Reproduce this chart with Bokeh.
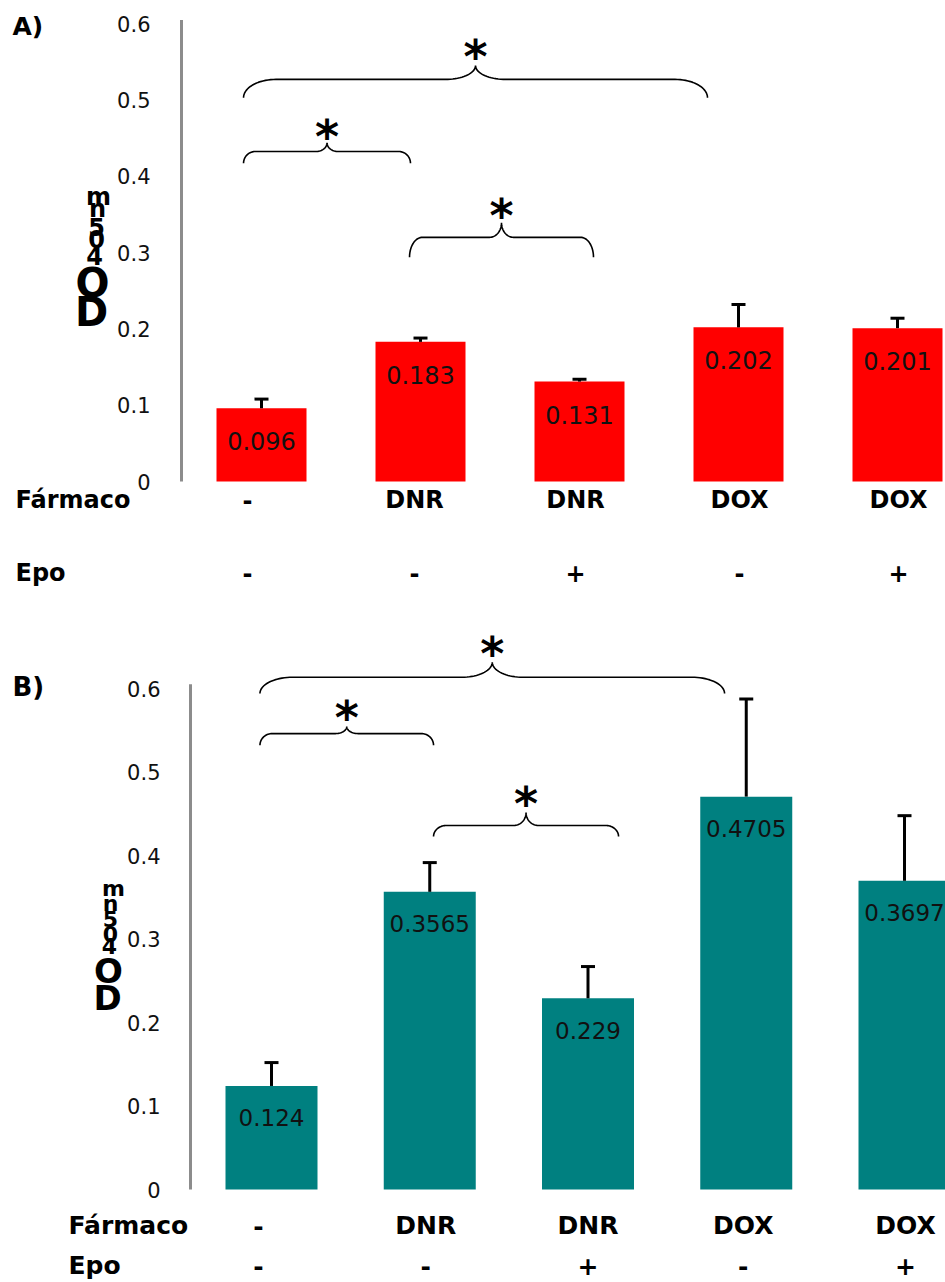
import numpy as np
from bokeh.plotting import figure
from bokeh.models import Range1d, ColumnDataSource
from bokeh.layouts import column
from bokeh.embed import file_html
from bokeh.resources import INLINE
from bokeh.core.properties import value

# ---------------- data ----------------
farmaco = ["-", "DNR", "DNR", "DOX", "DOX"]
epo = ["-", "-", "+", "-", "+"]
a_values = [0.096, 0.183, 0.131, 0.202, 0.201]
a_errors = [0.012, 0.005, 0.003, 0.030, 0.013]
b_values = [0.124, 0.3565, 0.229, 0.4705, 0.3697]
b_errors = [0.028, 0.035, 0.038, 0.117, 0.078]
y_ticks = [0, 0.1, 0.2, 0.3, 0.4, 0.5, 0.6]
y_tick_labels = ["0", "0.1", "0.2", "0.3", "0.4", "0.5", "0.6"]
ylabel_chars = ["m", "n", "5", "0", "4", "O", "D"]

# significance braces (data units): x0, x1, y_end, y_arm, y_peak, y_star
a_brace_x0 = [-0.113, -0.113, 0.931]
a_brace_x1 = [2.805, 0.937, 2.088]
a_brace_yend = [0.503, 0.417, 0.294]
a_brace_yarm = [0.527, 0.4325, 0.320]
a_brace_ypeak = [0.545, 0.444, 0.339]
a_star_y = [0.562, 0.457, 0.3526]

b_brace_x0 = [-0.073, -0.073, 1.024]
b_brace_x1 = [2.863, 1.024, 2.193]
b_brace_yend = [0.594, 0.532, 0.4228]
b_brace_yarm = [0.6135, 0.546, 0.436]
b_brace_ypeak = [0.6315, 0.5545, 0.4515]
b_star_y = [0.6467, 0.569, 0.466]


def brace(x0, x1, ye, ya, yp):
    xm = (x0 + x1) / 2.0
    r = 0.07 * (x1 - x0)
    rm = 0.065 * (x1 - x0)
    t = np.linspace(0, np.pi / 2, 20)
    xs1 = x0 + r - r * np.cos(t)
    ys1 = ye + (ya - ye) * np.sin(t)
    xs2 = xm - rm + rm * np.sin(t)
    ys2 = ya + (yp - ya) * (1 - np.cos(t))
    left_x = np.concatenate([xs1, xs2])
    left_y = np.concatenate([ys1, ys2])
    right_x = (2 * xm - left_x)[::-1]
    right_y = left_y[::-1]
    return np.concatenate([left_x, right_x]), np.concatenate([left_y, right_y])


def make_panel(cfg, values, errors, color, bx0, bx1, bye, bya, byp, stary):
    W, H = cfg["W"], cfg["H"]
    oy = cfg["oy"]
    c0, step, y0, ppu = cfg["c0"], cfg["step"], cfg["y0"], cfg["ppu"]

    def dx(px):
        return (px - c0) / step

    def dy(py):
        return (y0 - py) / ppu

    p = figure(width=W, height=H, output_backend="svg", toolbar_location=None,
               x_axis_location=None, y_axis_location=None,
               x_range=Range1d(dx(0), dx(W)), y_range=Range1d(dy(oy + H), dy(oy)),
               min_border_left=0, min_border_right=0, min_border_top=0,
               min_border_bottom=0)
    p.outline_line_color = None
    p.background_fill_color = "white"
    p.border_fill_color = "white"
    p.xgrid.visible = False
    p.ygrid.visible = False

    # y axis: line and tick labels placed through the scales
    ax = dx(cfg["axis_x"])
    p.segment(x0=[ax], y0=[y_ticks[0]], x1=[ax], y1=[y_ticks[-1] + 0.005],
              line_color="#8c8c8c", line_width=3)
    p.text(x=[ax] * len(y_ticks), y=y_ticks, text=y_tick_labels,
           x_offset=-cfg["standoff"], text_align="right", text_baseline="middle",
           text_font=value("DejaVu Sans"), text_font_size=cfg["tick_fs"],
           text_color="#111111")

    idx = list(range(len(values)))
    tops = [v + e for v, e in zip(values, errors)]
    src = ColumnDataSource(dict(x=idx, v=values, top=tops,
                                lbl=[str(v) for v in values]))
    bw = cfg["bar_px"] / step
    p.vbar(x="x", top="v", bottom=0, width=bw, source=src,
           fill_color=color, line_color=None)
    cap = 7.0 / step
    p.segment(x0="x", y0="v", x1="x", y1="top", source=src,
              line_color="black", line_width=3)
    src_cap = ColumnDataSource(dict(xa=[i - cap for i in idx], xb=[i + cap for i in idx], top=tops))
    p.segment(x0="xa", y0="top", x1="xb", y1="top", source=src_cap,
              line_color="black", line_width=3)
    p.text(x="x", y="v", text="lbl", source=src, text_align="center",
           text_baseline="middle", y_offset=cfg["val_off"],
           text_font=value("DejaVu Sans"), text_font_size=cfg["val_fs"],
           text_color="#111111")

    # braces and stars
    for i in range(len(bx0)):
        xs, ys = brace(bx0[i], bx1[i], bye[i], bya[i], byp[i])
        p.line(xs, ys, line_color="black", line_width=1.6)
    p.text(x=[(a + b) / 2 for a, b in zip(bx0, bx1)], y=stary, text=["*"] * len(bx0),
           text_align="center", text_baseline="middle", y_offset=cfg["star_off"],
           text_font=value("DejaVu Sans"), text_font_style="bold",
           text_font_size=cfg["star_fs"], text_color="black")

    # table rows
    col_shift = cfg["col_shift"]
    for row_lbl, row, py in [("Fármaco", farmaco, cfg["row1"]), ("Epo", epo, cfg["row2"])]:
        p.text(x=[dx(cfg["row_left"])], y=[dy(py)], text=[row_lbl],
               text_align="left", text_baseline="middle",
               text_font=value("DejaVu Sans"), text_font_style="bold",
               text_font_size=cfg["row_fs"], text_color="black")
        rsrc = ColumnDataSource(dict(x=idx, y=[dy(py)] * len(row), t=row, off=col_shift))
        p.text(x="x", y="y", text="t", x_offset="off", source=rsrc,
               text_align="center", text_baseline="middle",
               text_font=value("DejaVu Sans"), text_font_style="bold",
               text_font_size=cfg["row_fs"], text_color="black")

    # panel letter
    p.text(x=[dx(cfg["letter_x"])], y=[dy(cfg["letter_y"])], text=[cfg["letter"]],
           text_align="left", text_baseline="middle",
           text_font=value("DejaVu Sans"), text_font_style="bold",
           text_font_size=cfg["letter_fs"], text_color="black")

    # stacked axis title characters
    for ch, (px, py) in zip(ylabel_chars, cfg["od_pos"]):
        big = ch in ("O", "D")
        p.text(x=[dx(px)], y=[dy(py)], text=[ch],
               text_align="center", text_baseline="middle",
               text_font=value("DejaVu Sans"), text_font_style="bold",
               text_font_size=cfg["od_big"] if big else cfg["od_small"],
               text_color="black")
    return p


cfg_a = dict(W=945, H=600, oy=0, c0=261, step=159.0, y0=481, ppu=763.0,
             axis_x=181, standoff=31, tick_fs="21px", bar_px=90,
             val_off=33, val_fs="24px", star_off=4, star_fs="46px",
             row1=499, row2=572, row_left=15, row_fs="24px",
             col_shift=[-14, -6, -4, 1, 1],
             letter="A)", letter_x=12, letter_y=26, letter_fs="25px",
             od_pos=[(98, 196), (97, 208), (96, 226), (96, 238), (94, 255), (92, 282), (91, 311)],
             od_small="24px", od_big="40px")

cfg_b = dict(W=945, H=682, oy=600, c0=271, step=158.25, y0=1189, ppu=835.0,
             axis_x=190, standoff=30, tick_fs="21px", bar_px=92,
             val_off=32, val_fs="23px", star_off=4, star_fs="46px",
             row1=1225, row2=1265, row_left=68, row_fs="25px",
             col_shift=[-13, -4, 0, -3, 1],
             letter="B)", letter_x=12, letter_y=686, letter_fs="26px",
             od_pos=[(113, 888), (110, 903), (110, 918), (110, 933), (109, 945), (108, 970), (107, 997)],
             od_small="22px", od_big="34px")

pa = make_panel(cfg_a, a_values, a_errors, "#ff0000",
                a_brace_x0, a_brace_x1, a_brace_yend, a_brace_yarm, a_brace_ypeak, a_star_y)
pb = make_panel(cfg_b, b_values, b_errors, "#008080",
                b_brace_x0, b_brace_x1, b_brace_yend, b_brace_yarm, b_brace_ypeak, b_star_y)

layout = column(pa, pb, spacing=0)
open("out.html", "w").write(file_html(layout, INLINE))
